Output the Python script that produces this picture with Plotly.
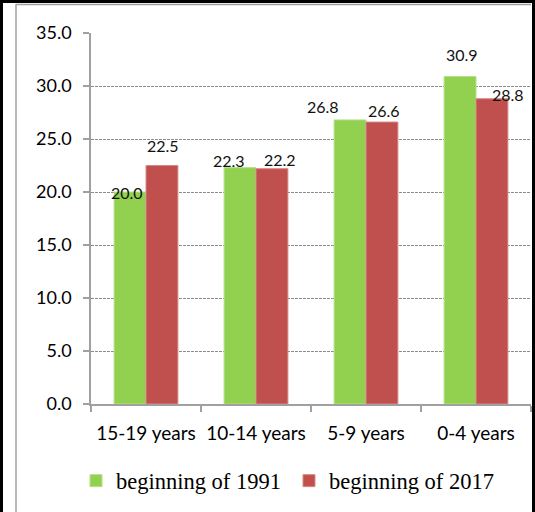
import plotly.graph_objects as go

# Age groups and share values (%)
categories = ["15-19 years", "10-14 years", "5-9 years", "0-4 years"]
series_1991 = [20.0, 22.3, 26.8, 30.9]
series_2017 = [22.5, 22.2, 26.6, 28.8]
name_1991 = "beginning of 1991"
name_2017 = "beginning of 2017"
y_ticks = [0, 5, 10, 15, 20, 25, 30, 35]

GREEN = "#92D050"
RED = "#C0504D"

# Pixel offsets of the value labels from the top centre of each category
shift_1991 = [(-19, 0), (-27, 7), (-43, 13), (-14, 22)]
shift_2017 = [(17, 20), (24, 9), (18, 12), (32, 4)]

W, H = 535, 512
L, R, T, B = 91, 4, 33, 108
PW, PH = W - L - R, H - T - B


def px(x):
    return (x - L) / PW


def py(y):
    return (H - B - y) / PH


fig = go.Figure()
fig.add_trace(go.Bar(
    x=categories, y=series_1991, name=name_1991,
    marker=dict(color=GREEN, line=dict(color="#b5e08a", width=1)),
))
fig.add_trace(go.Bar(
    x=categories, y=series_2017, name=name_2017,
    marker=dict(color=RED, line=dict(color="#d68a88", width=1)),
))

annotations = []
for vals, shifts in ((series_1991, shift_1991), (series_2017, shift_2017)):
    for cat, v, (dx, dy) in zip(categories, vals, shifts):
        annotations.append(dict(
            x=cat, y=v, xref="x", yref="y", text=f"{v:.1f}",
            showarrow=False, xanchor="center", yanchor="middle",
            xshift=dx, yshift=dy,
            font=dict(family="Lato", size=16, color="#111111"),
        ))

line_black = dict(color="black", width=3)
line_grey = dict(color="#a0a0a0", width=1.5)
shapes = [
    # outer black frame
    dict(type="line", xref="paper", yref="paper", x0=px(1.5), x1=px(1.5), y0=py(0), y1=py(H), line=line_black),
    dict(type="line", xref="paper", yref="paper", x0=px(0), x1=px(W), y0=py(1.5), y1=py(1.5), line=line_black),
    dict(type="line", xref="paper", yref="paper", x0=px(533.5), x1=px(533.5), y0=py(0), y1=py(H), line=line_black),
    # inner grey chart-area border
    dict(type="line", xref="paper", yref="paper", x0=px(16), x1=px(16), y0=py(4), y1=py(H), line=line_grey),
    dict(type="line", xref="paper", yref="paper", x0=px(16), x1=px(531), y0=py(4.5), y1=py(4.5), line=line_grey),
]

fig.update_layout(
    width=W, height=H,
    margin=dict(l=L, r=R, t=T, b=B),
    paper_bgcolor="white", plot_bgcolor="white",
    barmode="group", bargap=0.42, bargroupgap=0,
    annotations=annotations, shapes=shapes,
    legend=dict(
        orientation="h", x=px(76), xanchor="left", y=py(481), yanchor="middle",
        font=dict(family="Liberation Serif", size=22.5, color="black"),
        bgcolor="rgba(0,0,0,0)", entrywidth=168, entrywidthmode="pixels",
    ),
    xaxis=dict(
        type="category", tickson="boundaries", ticks="outside", ticklen=6,
        tickcolor="#a0a0a0", tickwidth=1.5,
        showline=True, linecolor="#a0a0a0", linewidth=2,
        showgrid=False, ticklabelstandoff=11,
        tickfont=dict(family="Lato", size=19, color="black"),
    ),
    yaxis=dict(
        range=[0, 35], tickvals=y_ticks, ticktext=[f"{t:.1f}" for t in y_ticks],
        ticks="outside", ticklen=6, tickcolor="#a0a0a0", tickwidth=1.5,
        showline=True, linecolor="#a0a0a0", linewidth=1.5,
        showgrid=True, gridcolor="#8c8c8c", gridwidth=1, griddash="3px,1px",
        zeroline=False, ticklabelstandoff=8,
        tickfont=dict(family="Lato", size=18, color="black"),
    ),
)

fig.write_html("out.html")
